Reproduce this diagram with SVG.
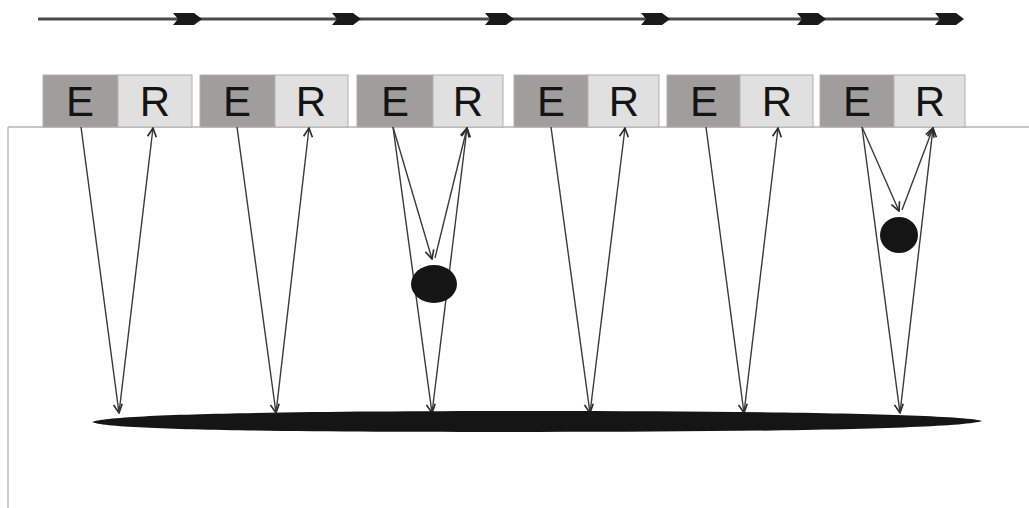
<svg xmlns="http://www.w3.org/2000/svg" width="1029" height="508" viewBox="0 0 1029 508">
<style>
.e{fill:#a09e9d;stroke:#b0aeae;stroke-width:1}
.r{fill:#e1e0e0;stroke:#b0aeae;stroke-width:1}
.t{font-family:"Liberation Sans",Arial,sans-serif;font-size:42px;fill:#141414;text-anchor:middle}
.ray{stroke:#3a3a3a;stroke-width:1.4;fill:none;marker-end:url(#ah)}
.dart{fill:#1a1a1a}
.obj{fill:#151515}
</style>
<defs>
<marker id="ah" viewBox="0 0 10 10" refX="9" refY="5" markerWidth="11" markerHeight="11" markerUnits="userSpaceOnUse" orient="auto">
<path d="M1,1 L9,5 L1,9" fill="none" stroke="#2a2a2a" stroke-width="1.5"/>
</marker>
<path id="dartshape" d="M0,-6 L21,-6 L29,0 L21,6 L0,6 L5,0 Z"/>
</defs>
<rect width="1029" height="508" fill="#ffffff"/>
<g id="ground">
<line x1="8" y1="127" x2="1029" y2="127" stroke="#b5b5b5" stroke-width="1.5"/>
<line x1="8" y1="127" x2="8" y2="508" stroke="#b5b5b5" stroke-width="1.5"/>
</g>
<g id="motion">
<line x1="38" y1="19" x2="960" y2="19" stroke="#4a4a4a" stroke-width="3"/>
<use href="#dartshape" class="dart" x="173" y="19"/>
<use href="#dartshape" class="dart" x="332" y="19"/>
<use href="#dartshape" class="dart" x="485" y="19"/>
<use href="#dartshape" class="dart" x="641" y="19"/>
<use href="#dartshape" class="dart" x="797" y="19"/>
<use href="#dartshape" class="dart" x="935" y="19"/>
</g>
<g id="sensor1"><rect class="e" x="43" y="75" width="75" height="52"/><rect class="r" x="118" y="75" width="74" height="52"/><text class="t" x="80" y="116">E</text><text class="t" x="155" y="116">R</text></g>
<g id="sensor2"><rect class="e" x="200" y="75" width="75" height="52"/><rect class="r" x="275" y="75" width="73" height="52"/><text class="t" x="237" y="116">E</text><text class="t" x="311" y="116">R</text></g>
<g id="sensor3"><rect class="e" x="357" y="75" width="76" height="52"/><rect class="r" x="433" y="75" width="70" height="52"/><text class="t" x="395" y="116">E</text><text class="t" x="468" y="116">R</text></g>
<g id="sensor4"><rect class="e" x="514" y="75" width="74" height="52"/><rect class="r" x="588" y="75" width="71" height="52"/><text class="t" x="551" y="116">E</text><text class="t" x="624" y="116">R</text></g>
<g id="sensor5"><rect class="e" x="667" y="75" width="73" height="52"/><rect class="r" x="740" y="75" width="73" height="52"/><text class="t" x="704" y="116">E</text><text class="t" x="777" y="116">R</text></g>
<g id="sensor6"><rect class="e" x="820" y="75" width="74" height="52"/><rect class="r" x="894" y="75" width="71" height="52"/><text class="t" x="857" y="116">E</text><text class="t" x="930" y="116">R</text></g>
<g id="connectors">
<line class="ray" x1="81" y1="127" x2="119" y2="413"/>
<line class="ray" x1="119" y1="413" x2="153" y2="128"/>
<line class="ray" x1="237" y1="127" x2="276" y2="413"/>
<line class="ray" x1="276" y1="413" x2="309" y2="128"/>
<line class="ray" x1="393" y1="127" x2="432" y2="413"/>
<line class="ray" x1="432" y1="413" x2="467" y2="128"/>
<line class="ray" x1="393" y1="127" x2="432" y2="259"/>
<line class="ray" x1="435" y1="258" x2="467" y2="128"/>
<line class="ray" x1="551" y1="127" x2="590" y2="413"/>
<line class="ray" x1="590" y1="413" x2="625" y2="128"/>
<line class="ray" x1="706" y1="127" x2="744" y2="413"/>
<line class="ray" x1="744" y1="413" x2="778" y2="128"/>
<line class="ray" x1="862" y1="127" x2="900" y2="413"/>
<line class="ray" x1="900" y1="413" x2="933" y2="128"/>
<line class="ray" x1="862" y1="127" x2="899" y2="211"/>
<line class="ray" x1="902" y1="210" x2="933" y2="128"/>
</g>
<g id="object1"><ellipse class="obj" cx="434" cy="284" rx="23" ry="19"/></g>
<g id="object2"><ellipse class="obj" cx="899" cy="235" rx="19" ry="18"/></g>
<g id="reflector"><path class="obj" d="M92,422 C110,413 330,411 537,411 C744,411 960,414 982,421 C960,429 744,432 537,432 C330,432 110,431 92,422 Z"/></g>
</svg>
